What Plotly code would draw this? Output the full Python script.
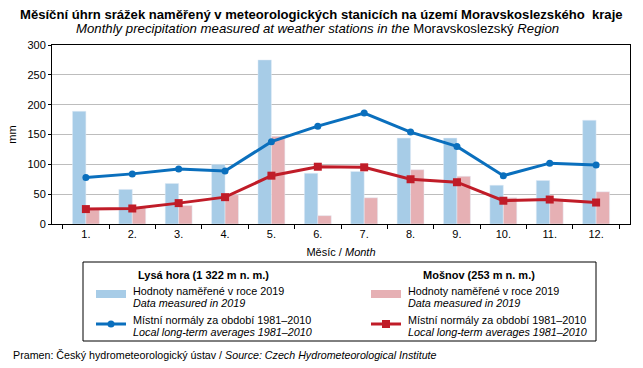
import plotly.graph_objects as go

months = ["1.", "2.", "3.", "4.", "5.", "6.", "7.", "8.", "9.", "10.", "11.", "12."]
lysa_2019 = [189, 58, 68, 100, 275, 85, 88, 144, 144, 65, 73, 174]
mosnov_2019 = [24, 27, 31, 49, 147, 14, 44, 91, 80, 44, 42, 54]
lysa_norm = [78, 84, 92, 89, 138, 164, 186, 154, 130, 81, 102, 99]
mosnov_norm = [25, 26, 35, 45, 81, 96, 95, 75, 70, 39, 41, 36]

y_ticks = [0, 50, 100, 150, 200, 250, 300]

FONT = "Liberation Sans, Arial, sans-serif"
BLUE_BAR = "#a7cce7"
PINK_BAR = "#e6b0b4"
BLUE_LINE = "#0a6fbd"
RED_LINE = "#c01c28"

bar_l1 = "Hodnoty naměřené v roce 2019"
bar_l2 = "<i>Data measured in 2019</i>"
line_l1 = "Místní normály za období 1981–2010"
line_l2 = "<i>Local long-term averages 1981–2010</i>"

fig = go.Figure()
fig.add_trace(go.Bar(x=months, y=lysa_2019, marker_color=BLUE_BAR,
                     name="Lysá hora – 2019"))
fig.add_trace(go.Bar(x=months, y=mosnov_2019, marker_color=PINK_BAR,
                     name="Mošnov – 2019"))
fig.add_trace(go.Scatter(x=months, y=lysa_norm, mode="lines+markers",
                         line=dict(color=BLUE_LINE, width=3),
                         marker=dict(symbol="circle", size=7, color=BLUE_LINE),
                         name="Lysá hora – normál"))
fig.add_trace(go.Scatter(x=months, y=mosnov_norm, mode="lines+markers",
                         line=dict(color=RED_LINE, width=3),
                         marker=dict(symbol="square", size=8, color=RED_LINE),
                         name="Mošnov – normál"))

L, R, T, B = 52, 13, 45, 144
W, H = 643, 368
pw = W - L - R
ph = H - T - B


def px(x):
    return (x - L) / pw


def py(y):
    return (H - B - y) / ph


fig.update_layout(
    width=W, height=H,
    margin=dict(l=L, r=R, t=T, b=B, autoexpand=False),
    paper_bgcolor="white", plot_bgcolor="white",
    font=dict(family=FONT, size=11, color="#000"),
    barmode="group", bargap=0.42, bargroupgap=0,
    showlegend=False,
    xaxis=dict(
        showline=True, linecolor="#000", linewidth=1, mirror=True,
        ticks="outside", tickson="boundaries", ticklen=4, tickcolor="#000",
        tickfont=dict(size=11),
        title=dict(text="Měsíc / <i>Month</i>", font=dict(size=11), standoff=9),
    ),
    yaxis=dict(
        range=[0, 300], tickvals=y_ticks,
        showline=True, linecolor="#000", linewidth=1, mirror=True,
        ticks="outside", ticklen=3, tickcolor="#000",
        gridcolor="#bdbdbd", gridwidth=1,
        tickfont=dict(size=11),
        title=dict(text="mm", font=dict(size=11), standoff=8),
        zeroline=False,
    ),
)

# legend frame
fig.add_shape(type="rect", xref="paper", yref="paper",
              x0=px(83), x1=px(596), y0=py(341), y1=py(262),
              line=dict(color="#000", width=1), fillcolor="rgba(0,0,0,0)")


def txt(x, y, text, anchor="left", size=10.8, bold=False):
    if bold:
        text = "<b>" + text + "</b>"
    fig.add_annotation(xref="paper", yref="paper", x=px(x), y=py(y),
                       xanchor=anchor, yanchor="middle", text=text, showarrow=False,
                       font=dict(family=FONT, size=size, color="#000"))


def legend_column(x_sw, x_txt, x_head, heading, bar_color, line_color, symbol):
    txt(x_head, 275, heading, anchor="center", size=11, bold=True)
    fig.add_shape(type="rect", xref="paper", yref="paper",
                  x0=px(x_sw), x1=px(x_sw + 30), y0=py(298), y1=py(290),
                  line=dict(width=0), fillcolor=bar_color)
    txt(x_txt, 290.5, bar_l1)
    txt(x_txt, 302.5, bar_l2)
    fig.add_shape(type="line", xref="paper", yref="paper",
                  x0=px(x_sw), x1=px(x_sw + 30), y0=py(324), y1=py(324),
                  line=dict(color=line_color, width=3))
    cx = x_sw + 15
    if symbol == "circle":
        fig.add_shape(type="circle", xref="paper", yref="paper",
                      x0=px(cx - 3.5), x1=px(cx + 3.5), y0=py(327.5), y1=py(320.5),
                      line=dict(width=0), fillcolor=line_color)
    else:
        fig.add_shape(type="rect", xref="paper", yref="paper",
                      x0=px(cx - 4), x1=px(cx + 4), y0=py(328), y1=py(320),
                      line=dict(width=0), fillcolor=line_color)
    txt(x_txt, 319.5, line_l1)
    txt(x_txt, 331.5, line_l2)


legend_column(96, 131, 203, "Lysá hora (1 322 m n. m.)", BLUE_BAR, BLUE_LINE, "circle")
legend_column(371, 406, 479, "Mošnov (253 m n. m.)", PINK_BAR, RED_LINE, "square")

fig.add_annotation(xref="paper", yref="paper", x=px(321), y=py(14), xanchor="center", yanchor="middle",
                   text="<b>Měsíční úhrn srážek naměřený v meteorologických stanicích na území Moravskoslezského  kraje</b>",
                   showarrow=False, font=dict(family=FONT, size=13.1, color="#000"))
fig.add_annotation(xref="paper", yref="paper", x=px(317), y=py(28.5), xanchor="center", yanchor="middle",
                   text="<i>Monthly precipitation measured at weather stations in the </i>Moravskoslezský<i> Region</i>",
                   showarrow=False, font=dict(family=FONT, size=13.2, color="#000"))
fig.add_annotation(xref="paper", yref="paper", x=px(11), y=py(355), xanchor="left", yanchor="middle",
                   text="Pramen: Český hydrometeorologický ústav / <i>Source: Czech Hydrometeorological Institute</i>",
                   showarrow=False, font=dict(family=FONT, size=10.7, color="#000"))

fig.write_html("out.html", config={"displayModeBar": False},
               post_script="document.body.style.margin='0px';document.body.style.overflow='hidden';")
